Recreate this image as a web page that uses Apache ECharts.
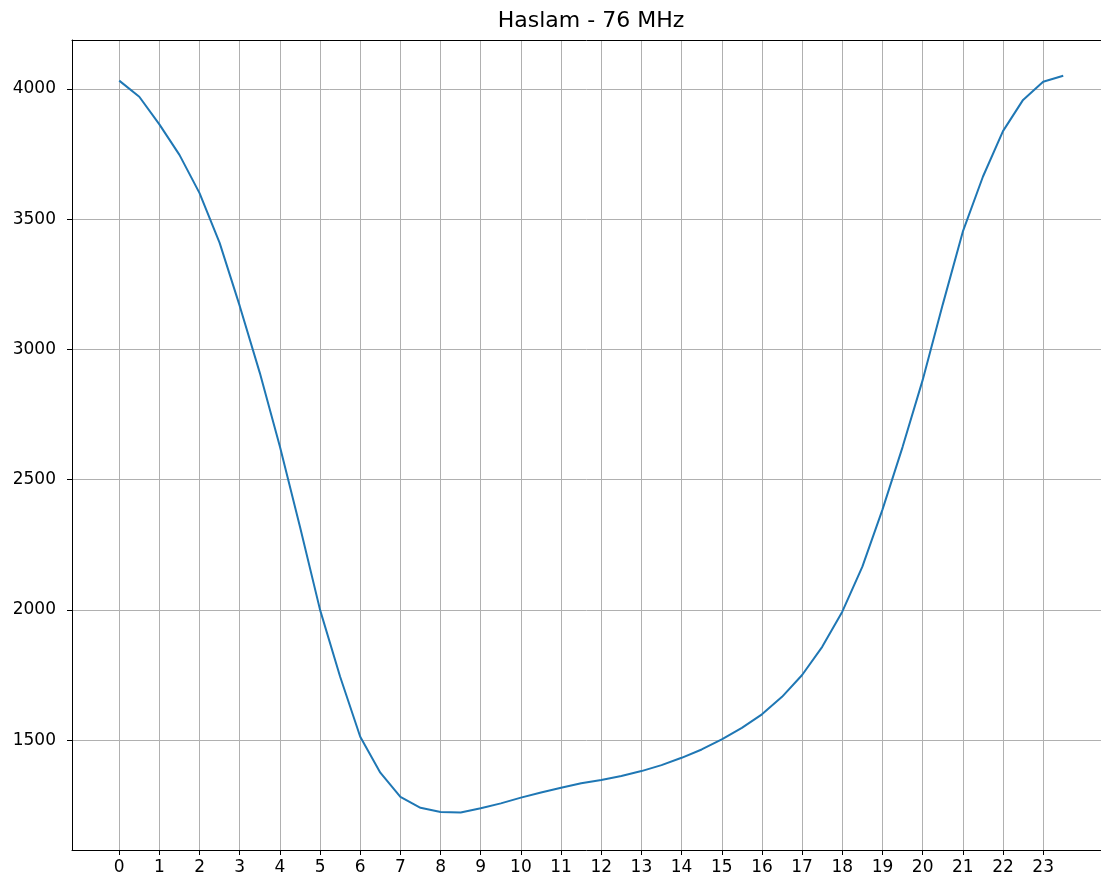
<!DOCTYPE html>
<html>
<head>
<meta charset="utf-8">
<title>Haslam - 76 MHz</title>
<script src="https://cdn.jsdelivr.net/npm/echarts@6/dist/echarts.min.js"></script>
<style>
  html, body { margin: 0; padding: 0; background: #fff; }
  #chart { width: 1101px; height: 882px; }
</style>
</head>
<body>
<div id="chart"></div>
<script>
// hour of day, half-hour steps
const hours = [
  0, 0.5, 1, 1.5, 2, 2.5, 3, 3.5, 4, 4.5, 5, 5.5,
  6, 6.5, 7, 7.5, 8, 8.5, 9, 9.5, 10, 10.5, 11, 11.5,
  12, 12.5, 13, 13.5, 14, 14.5, 15, 15.5, 16, 16.5, 17, 17.5,
  18, 18.5, 19, 19.5, 20, 20.5, 21, 21.5, 22, 22.5, 23, 23.5
];

const signal = [
  4032, 3970, 3864, 3747, 3600, 3409, 3167, 2910, 2627, 2319, 2000, 1743,
  1513, 1375, 1282, 1240, 1224, 1222, 1238, 1257, 1279, 1299, 1317, 1334,
  1347, 1362, 1381, 1404, 1432, 1464, 1503, 1547, 1599, 1666, 1750, 1858,
  1993, 2166, 2385, 2625, 2882, 3172, 3452, 3663, 3838, 3958, 4028, 4051
];

const xTicks = [0, 1, 2, 3, 4, 5, 6, 7, 8, 9, 10, 11, 12, 13, 14, 15, 16, 17, 18, 19, 20, 21, 22, 23];
const yTicks = [1500, 2000, 2500, 3000, 3500, 4000];

const chart = echarts.init(document.getElementById('chart'));

const labelFont = { fontFamily: 'DejaVu Sans', fontSize: 17, color: '#000' };
const gridLine = { show: true, lineStyle: { color: '#b0b0b0', width: 1, type: 'solid' } };

// the plot box runs past the right edge of the picture, so only the
// left, bottom and top spines are drawn
chart.setOption({
  animation: false,
  backgroundColor: '#fff',
  title: {
    text: 'Haslam - 76 MHz',
    left: 586,
    top: 5,
    textAlign: 'center',
    textStyle: { fontFamily: 'DejaVu Sans', fontSize: 22, fontWeight: 'normal', color: '#000' }
  },
  grid: {
    left: 72,
    top: 40,
    width: 1029,
    height: 810,
    show: false
  },
  xAxis: [
    {
      type: 'value',
      min: -1.175,
      max: 24.44,
      axisLine: { onZero: false, lineStyle: { color: '#000', width: 1 } },
      axisTick: { customValues: xTicks, length: 5, lineStyle: { color: '#000' } },
      axisLabel: { customValues: xTicks, margin: 9, ...labelFont },
      splitLine: gridLine
    },
    {
      type: 'value',
      position: 'top',
      min: -1.175,
      max: 24.44,
      axisLine: { show: true, onZero: false, lineStyle: { color: '#000', width: 1 } },
      axisTick: { show: false },
      axisLabel: { show: false },
      splitLine: { show: false }
    }
  ],
  yAxis: {
    type: 'value',
    min: 1078,
    max: 4188,
    axisLine: { show: true, onZero: false, lineStyle: { color: '#000', width: 1 } },
    axisTick: { show: true, customValues: yTicks, length: 5, lineStyle: { color: '#000' } },
    axisLabel: { customValues: yTicks, margin: 16, formatter: (v) => String(v), ...labelFont },
    splitLine: gridLine
  },
  series: [
    {
      type: 'line',
      xAxisIndex: 0,
      data: hours.map((h, i) => [h, signal[i]]),
      showSymbol: false,
      smooth: false,
      lineStyle: { color: '#1f77b4', width: 2 }
    }
  ]
});
</script>
</body>
</html>
